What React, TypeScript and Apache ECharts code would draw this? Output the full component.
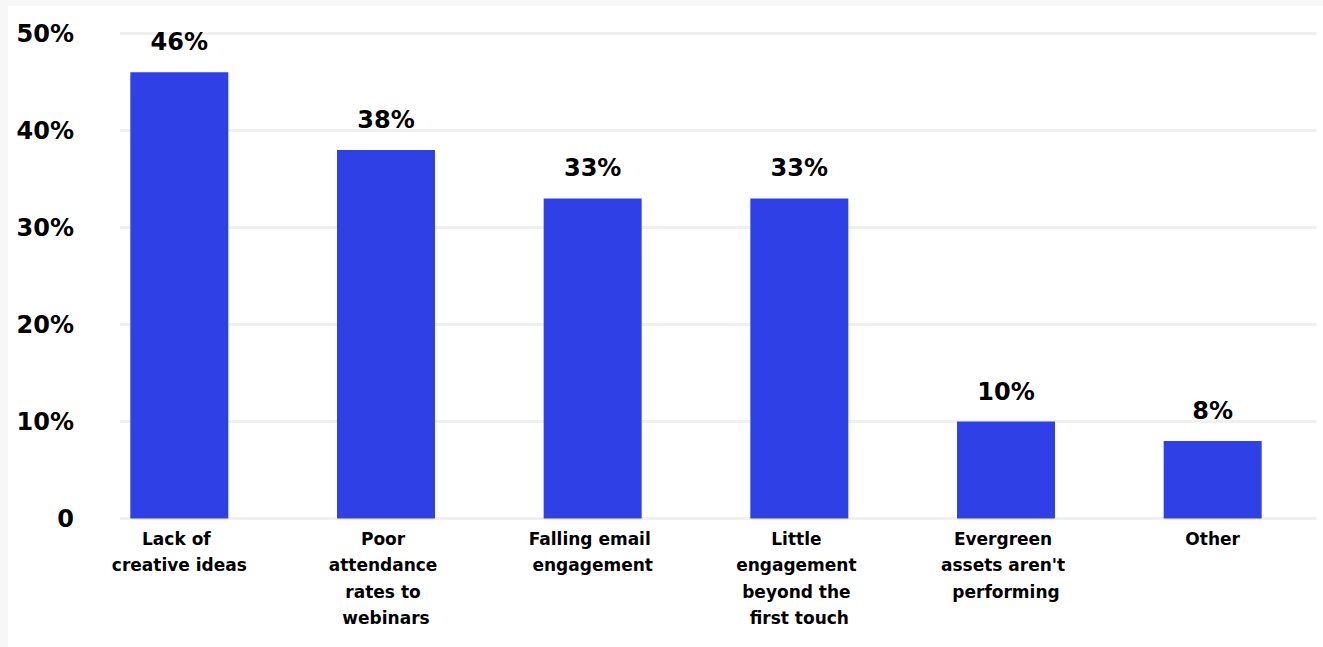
import React, { useEffect, useRef } from "react";
import * as echarts from "echarts";

const categories = [
  "Lack of creative ideas",
  "Poor attendance rates to webinars",
  "Falling email engagement",
  "Little engagement beyond the first touch",
  "Evergreen assets aren't performing",
  "Other",
];
const values = [46, 38, 33, 33, 10, 8];
const yTicks = { min: 0, max: 50, interval: 10 };

const FONT = "'DejaVu Sans', sans-serif";

export default function App() {
  const ref = useRef<HTMLDivElement>(null);
  useEffect(() => {
    document.body.style.margin = "0";
    document.body.style.background = "#f7f7f7";
    if (!ref.current) return;
    const chart = echarts.init(ref.current, null, { renderer: "svg" });
    const gTop = 27.5;
    const gBottom = 128.5;
    chart.setOption({
      animation: false,
      backgroundColor: "#ffffff",
      grid: [
        { left: 112, right: 6.5, top: gTop, bottom: gBottom },
        { left: 68, right: 7, top: gTop, bottom: gBottom },
      ],
      xAxis: [
        { type: "value", gridIndex: 0, show: false, min: 0, max: 1 },
        {
          type: "category",
          gridIndex: 1,
          data: categories,
          axisLine: { show: false },
          axisTick: { show: false },
          axisLabel: {
            interval: 0,
            margin: 7,
            color: "#000",
            fontFamily: FONT,
            fontWeight: "bold",
            fontSize: 17,
            lineHeight: 26.5,
            width: 140,
            overflow: "break",
            verticalAlign: "top",
          },
        },
      ],
      yAxis: [
        {
          type: "value",
          gridIndex: 0,
          min: yTicks.min,
          max: yTicks.max,
          interval: yTicks.interval,
          axisLine: { show: false },
          axisTick: { show: false },
          splitLine: { show: true, lineStyle: { color: "#f0f0f0", width: 3 } },
          axisLabel: {
            margin: 46,
            color: "#000",
            fontFamily: FONT,
            fontWeight: "bold",
            fontSize: 24,
            formatter: (v: number) => (v === 0 ? "0" : v + "%"),
          },
        },
        {
          type: "value",
          gridIndex: 1,
          min: yTicks.min,
          max: yTicks.max,
          interval: yTicks.interval,
          show: false,
          splitLine: { show: false },
        },
      ],
      series: [
        {
          type: "bar",
          xAxisIndex: 1,
          yAxisIndex: 1,
          data: values,
          barWidth: 98,
          itemStyle: { color: "#2f40e6" },
          label: {
            show: true,
            position: "top",
            distance: 18,
            color: "#000",
            fontFamily: FONT,
            fontWeight: "bold",
            fontSize: 24,
            formatter: (p: any) => p.value + "%",
          },
        },
      ],
    });
    return () => chart.dispose();
  }, []);
  return (
    <div
      ref={ref}
      style={{
        position: "absolute",
        left: 8,
        top: 6,
        width: 1315,
        height: 641,
        background: "#fff",
      }}
    />
  );
}
